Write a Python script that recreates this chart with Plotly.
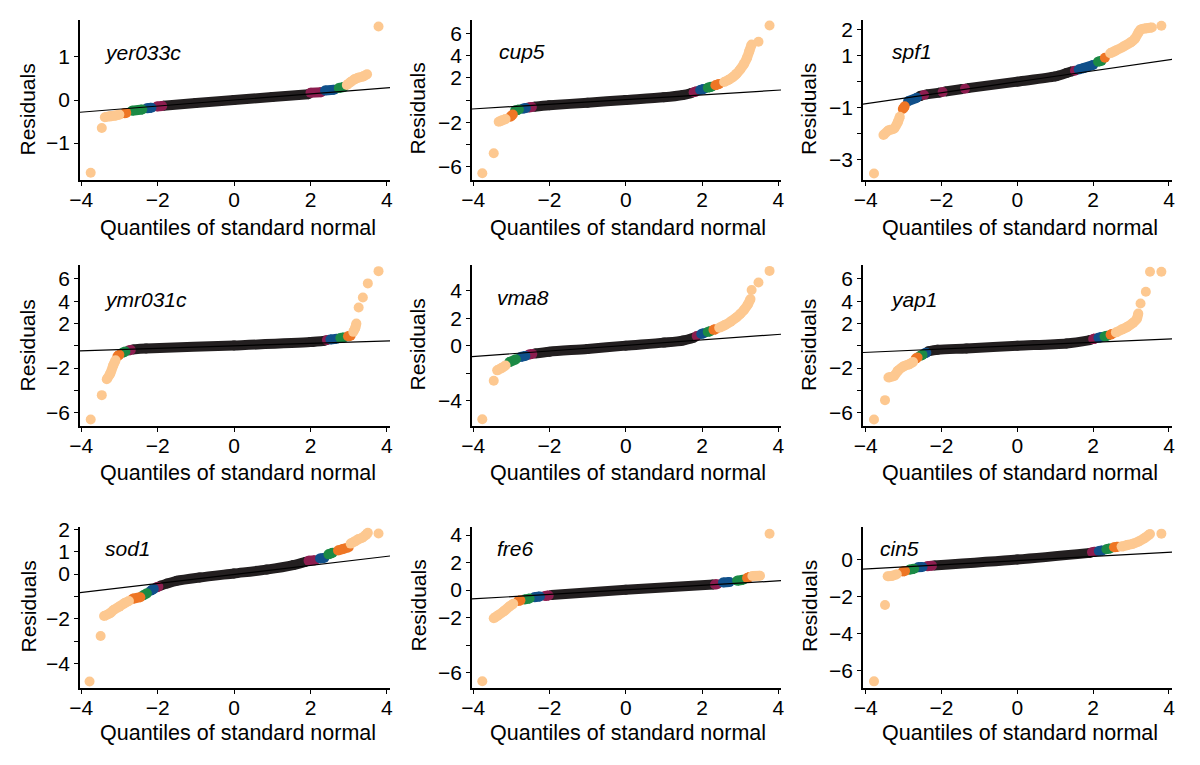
import plotly.graph_objects as go

# ---------------- data ----------------
genes = ["yer033c", "cup5", "spf1", "ymr031c", "vma8", "yap1", "sod1", "fre6", "cin5"]

# points: (theoretical quantile, residual, group)
# group: k=bulk, m=maroon, b=blue, g=green, o=orange, P=peach run, p=peach single
yer033c_pts = [(-3.75, -1.69, "p"), (-3.46, -0.65, "p"),
               (-3.38, -0.40, "P"), (-3.25, -0.38, "P"), (-3.10, -0.36, "P"), (-3.00, -0.34, "P"),
               (-2.87, -0.31, "o"), (-2.82, -0.30, "o"),
               (-2.67, -0.25, "g"), (-2.40, -0.22, "g"),
               (-2.28, -0.19, "b"), (-2.16, -0.18, "b"),
               (-2.02, -0.15, "m"), (-1.88, -0.14, "m"),
               (-1.85, -0.135, "k"), (-1.00, -0.07, "k"), (0.00, 0.00, "k"), (1.00, 0.07, "k"), (1.95, 0.135, "k"),
               (2.00, 0.17, "m"), (2.28, 0.18, "m"),
               (2.38, 0.22, "b"), (2.62, 0.24, "b"),
               (2.74, 0.28, "g"), (2.87, 0.30, "g"),
               (2.95, 0.35, "P"), (3.05, 0.42, "P"), (3.15, 0.48, "P"), (3.25, 0.52, "P"), (3.38, 0.55, "P"), (3.48, 0.60, "P"),
               (3.78, 1.71, "p")]

cup5_pts = [(-3.76, -6.60, "p"), (-3.46, -4.80, "p"),
            (-3.33, -1.95, "P"), (-3.25, -1.85, "P"), (-3.15, -1.72, "P"),
            (-3.02, -1.50, "o"), (-2.96, -1.30, "o"),
            (-2.90, -0.95, "g"), (-2.80, -0.86, "g"),
            (-2.70, -0.78, "b"), (-2.62, -0.73, "b"),
            (-2.55, -0.68, "m"), (-2.46, -0.64, "m"),
            (-2.40, -0.60, "k"), (-2.00, -0.48, "k"), (-1.00, -0.24, "k"), (0.00, 0.00, "k"),
            (1.00, 0.24, "k"), (1.50, 0.45, "k"), (1.72, 0.62, "k"),
            (1.78, 0.70, "m"), (1.86, 0.78, "m"),
            (1.95, 0.90, "b"), (2.05, 1.00, "b"),
            (2.15, 1.10, "g"), (2.25, 1.20, "g"),
            (2.35, 1.32, "o"), (2.45, 1.45, "o"),
            (2.58, 1.62, "P"), (2.70, 1.82, "P"), (2.80, 2.05, "P"), (2.90, 2.35, "P"), (3.00, 2.75, "P"),
            (3.10, 3.25, "P"), (3.18, 3.80, "P"), (3.24, 4.40, "P"), (3.30, 5.00, "P"),
            (3.48, 5.25, "p"), (3.77, 6.70, "p")]

spf1_pts = [(-3.78, -3.53, "p"),
            (-3.53, -2.05, "P"), (-3.40, -1.88, "P"), (-3.25, -1.80, "P"), (-3.15, -1.55, "P"), (-3.10, -1.35, "P"),
            (-3.02, -1.05, "o"), (-2.97, -0.95, "o"),
            (-2.88, -0.75, "b"), (-2.65, -0.62, "b"),
            (-2.58, -0.56, "k"), (-2.52, -0.53, "k"),
            (-2.46, -0.51, "m"),
            (-2.40, -0.49, "k"), (-2.04, -0.42, "k"),
            (-1.97, -0.40, "m"),
            (-1.90, -0.38, "k"), (-1.45, -0.28, "k"),
            (-1.38, -0.27, "m"),
            (-1.31, -0.25, "k"), (0.00, 0.00, "k"), (1.00, 0.20, "k"), (1.30, 0.33, "k"), (1.45, 0.40, "k"),
            (1.52, 0.42, "m"),
            (1.62, 0.47, "b"), (1.75, 0.52, "b"), (2.00, 0.64, "b"),
            (2.13, 0.77, "g"), (2.22, 0.80, "g"),
            (2.31, 0.92, "o"),
            (2.45, 1.09, "P"), (2.60, 1.20, "P"), (2.80, 1.35, "P"), (3.00, 1.52, "P"), (3.10, 1.65, "P"),
            (3.20, 1.90, "P"), (3.25, 2.00, "P"), (3.40, 2.05, "P"), (3.55, 2.08, "P"),
            (3.80, 2.15, "p")]

ymr031c_pts = [(-3.75, -6.62, "p"), (-3.46, -4.43, "p"),
               (-3.33, -3.00, "P"), (-3.24, -2.50, "P"), (-3.16, -1.75, "P"), (-3.10, -1.30, "P"),
               (-3.05, -0.95, "o"), (-3.00, -0.80, "o"),
               (-2.92, -0.62, "g"), (-2.84, -0.52, "g"),
               (-2.76, -0.43, "m"), (-2.70, -0.38, "m"),
               (-2.65, -0.33, "k"), (-2.30, -0.25, "k"), (0.00, 0.03, "k"), (2.00, 0.33, "k"), (2.38, 0.45, "k"),
               (2.43, 0.51, "m"),
               (2.52, 0.57, "b"), (2.68, 0.62, "b"),
               (2.78, 0.70, "g"), (2.88, 0.75, "g"),
               (2.98, 0.85, "o"), (3.05, 0.90, "o"),
               (3.12, 1.25, "P"), (3.17, 1.60, "P"), (3.20, 2.00, "P"),
               (3.26, 3.44, "p"), (3.37, 4.34, "p"), (3.50, 5.60, "p"), (3.78, 6.70, "p")]

vma8_pts = [(-3.76, -5.36, "p"), (-3.46, -2.55, "p"),
            (-3.37, -1.80, "P"), (-3.25, -1.62, "P"), (-3.15, -1.45, "P"),
            (-3.05, -1.20, "g"), (-2.88, -1.00, "g"),
            (-2.75, -0.82, "b"), (-2.63, -0.75, "b"),
            (-2.55, -0.66, "m"), (-2.45, -0.60, "m"),
            (-2.38, -0.57, "k"), (-2.00, -0.44, "k"), (-1.00, -0.24, "k"), (0.00, 0.00, "k"),
            (1.00, 0.22, "k"), (1.50, 0.37, "k"), (1.80, 0.60, "k"),
            (1.86, 0.70, "m"),
            (1.98, 0.85, "b"), (2.05, 0.90, "b"),
            (2.15, 1.00, "g"), (2.22, 1.05, "g"),
            (2.30, 1.15, "o"), (2.36, 1.20, "o"),
            (2.45, 1.30, "P"), (2.60, 1.50, "P"), (2.75, 1.75, "P"), (2.90, 2.05, "P"), (3.00, 2.30, "P"),
            (3.10, 2.60, "P"), (3.20, 3.00, "P"), (3.27, 3.40, "P"),
            (3.30, 4.05, "p"), (3.48, 4.60, "p"), (3.77, 5.44, "p")]

yap1_pts = [(-3.78, -6.62, "p"), (-3.49, -4.88, "p"),
            (-3.40, -2.85, "P"), (-3.25, -2.70, "P"), (-3.15, -2.25, "P"), (-3.00, -1.85, "P"),
            (-2.85, -1.65, "P"), (-2.75, -1.45, "P"),
            (-2.68, -1.15, "o"), (-2.63, -1.05, "o"),
            (-2.56, -0.90, "g"), (-2.50, -0.82, "g"),
            (-2.45, -0.70, "b"), (-2.40, -0.62, "b"),
            (-2.35, -0.50, "k"), (-2.10, -0.36, "k"), (-1.34, -0.24, "k"), (0.00, 0.00, "k"),
            (1.30, 0.21, "k"), (1.92, 0.51, "k"),
            (2.00, 0.60, "m"), (2.06, 0.66, "m"),
            (2.14, 0.72, "b"), (2.22, 0.78, "b"),
            (2.30, 0.84, "g"), (2.38, 0.90, "g"),
            (2.46, 1.00, "o"), (2.50, 1.06, "o"),
            (2.60, 1.20, "P"), (2.75, 1.45, "P"), (2.90, 1.70, "P"), (3.05, 2.05, "P"), (3.15, 2.40, "P"), (3.19, 2.90, "P"),
            (3.25, 3.80, "p"), (3.39, 4.85, "p"), (3.50, 6.65, "p"), (3.80, 6.65, "p")]

sod1_pts = [(-3.78, -4.79, "p"), (-3.49, -2.76, "p"),
            (-3.40, -1.87, "P"), (-3.25, -1.75, "P"), (-3.15, -1.60, "P"), (-3.00, -1.45, "P"),
            (-2.85, -1.28, "P"), (-2.75, -1.20, "P"),
            (-2.65, -1.10, "o"), (-2.45, -1.03, "o"),
            (-2.38, -0.95, "g"), (-2.28, -0.86, "g"),
            (-2.18, -0.74, "b"), (-2.10, -0.66, "b"),
            (-2.04, -0.60, "m"), (-1.98, -0.56, "m"),
            (-1.93, -0.52, "k"), (-1.75, -0.42, "k"), (-1.50, -0.30, "k"), (-0.90, -0.15, "k"),
            (0.00, 0.03, "k"), (0.85, 0.20, "k"), (1.55, 0.40, "k"), (1.88, 0.55, "k"),
            (1.95, 0.60, "m"), (2.12, 0.62, "m"),
            (2.25, 0.70, "b"), (2.36, 0.72, "b"),
            (2.47, 0.88, "g"), (2.58, 0.95, "g"),
            (2.72, 1.05, "o"), (2.85, 1.12, "o"), (3.00, 1.20, "o"),
            (3.05, 1.36, "P"), (3.15, 1.45, "P"), (3.25, 1.55, "P"), (3.35, 1.62, "P"), (3.45, 1.75, "P"), (3.50, 1.84, "P"),
            (3.78, 1.81, "p")]

fre6_pts = [(-3.76, -6.64, "p"),
            (-3.46, -2.05, "P"), (-3.35, -1.85, "P"), (-3.20, -1.55, "P"), (-3.05, -1.20, "P"), (-2.95, -1.00, "P"),
            (-2.82, -0.80, "o"), (-2.76, -0.75, "o"),
            (-2.65, -0.68, "g"), (-2.52, -0.62, "g"),
            (-2.40, -0.52, "b"), (-2.25, -0.47, "b"),
            (-2.12, -0.43, "m"), (-2.02, -0.40, "m"),
            (-1.95, -0.36, "k"), (0.00, 0.03, "k"), (2.30, 0.41, "k"),
            (2.34, 0.41, "m"), (2.40, 0.43, "m"),
            (2.55, 0.55, "b"), (2.72, 0.58, "b"),
            (2.92, 0.68, "g"), (3.08, 0.75, "g"),
            (3.18, 0.88, "o"), (3.25, 0.95, "o"),
            (3.32, 1.02, "P"), (3.52, 1.04, "P"),
            (3.77, 4.10, "p")]

cin5_pts = [(-3.78, -6.59, "p"), (-3.49, -2.46, "p"),
            (-3.42, -0.90, "P"), (-3.30, -0.88, "P"), (-3.18, -0.80, "P"),
            (-3.02, -0.65, "o"), (-2.96, -0.62, "o"),
            (-2.85, -0.55, "g"), (-2.72, -0.50, "g"),
            (-2.62, -0.42, "b"), (-2.50, -0.40, "b"),
            (-2.38, -0.36, "m"), (-2.25, -0.33, "m"),
            (-2.20, -0.32, "k"), (0.00, 0.00, "k"), (1.92, 0.36, "k"),
            (1.97, 0.40, "m"), (2.05, 0.42, "m"),
            (2.15, 0.46, "b"), (2.25, 0.49, "b"),
            (2.35, 0.56, "g"), (2.45, 0.60, "g"),
            (2.55, 0.66, "o"), (2.65, 0.69, "o"),
            (2.75, 0.70, "P"), (2.90, 0.78, "P"), (3.05, 0.86, "P"), (3.20, 0.98, "P"), (3.35, 1.15, "P"), (3.50, 1.38, "P"),
            (3.80, 1.40, "p")]

# reference (fitted) line: residual at the two x ends
ref_x = [-4.1, 4.15]
yer033c_ref = [-0.290, 0.294]
cup5_ref = [-0.825, 0.917]
spf1_ref = [-0.868, 0.868]
ymr031c_ref = [-0.458, 0.457]
vma8_ref = [-0.814, 0.846]
yap1_ref = [-0.606, 0.636]
sod1_ref = [-0.838, 0.820]
fre6_ref = [-0.661, 0.693]
cin5_ref = [-0.525, 0.414]

# axis ticks
x_ticks = [-4, -2, 0, 2, 4]
x_ticktext = ["\u22124", "\u22122", "0", "2", "4"]
yer033c_yt = ([-1, 0, 1], ["\u22121", "0", "1"])
cup5_yt = ([-6, -4, -2, 0, 2, 4, 6], ["\u22126", "", "\u22122", "", "2", "4", "6"])
spf1_yt = ([-3, -2, -1, 0, 1, 2], ["\u22123", "", "\u22121", "", "1", "2"])
ymr031c_yt = ([-6, -4, -2, 0, 2, 4, 6], ["\u22126", "", "\u22122", "", "2", "4", "6"])
vma8_yt = ([-4, -2, 0, 2, 4], ["\u22124", "", "0", "2", "4"])
yap1_yt = ([-6, -4, -2, 0, 2, 4, 6], ["\u22126", "", "\u22122", "", "2", "4", "6"])
sod1_yt = ([-4, -3, -2, -1, 0, 1, 2], ["\u22124", "", "\u22122", "", "0", "1", "2"])
fre6_yt = ([-6, -4, -2, 0, 2, 4], ["\u22126", "", "\u22122", "0", "2", "4"])
cin5_yt = ([-6, -4, -2, 0], ["\u22126", "\u22124", "\u22122", "0"])

x_title = "Quantiles of standard normal"
y_title = "Residuals"

# ---------------- styling / layout ----------------
pts_all = [yer033c_pts, cup5_pts, spf1_pts, ymr031c_pts, vma8_pts, yap1_pts, sod1_pts, fre6_pts, cin5_pts]
refs_all = [yer033c_ref, cup5_ref, spf1_ref, ymr031c_ref, vma8_ref, yap1_ref, sod1_ref, fre6_ref, cin5_ref]
yts_all = [yer033c_yt, cup5_yt, spf1_yt, ymr031c_yt, vma8_yt, yap1_yt, sod1_yt, fre6_yt, cin5_yt]
y_ranges = [[-1.86, 1.86], [-7.2, 7.2], [-3.78, 2.37],
            [-7.2, 7.25], [-5.85, 5.87], [-7.2, 7.25],
            [-5.08, 2.1], [-7.13, 4.59], [-6.95, 1.76]]
x_ranges = [[-4.03, 4.08], [-4.03, 4.07], [-4.07, 4.08]]

W, H = 1200, 765
col_px = [(80, 390), (472, 781), (863, 1172)]
row_px = [(20, 180), (265, 426), (527, 688)]
label_px = [(102, 53), (497, 52), (890, 52), (102, 300), (495, 298), (888, 300),
            (103, 548), (495, 548), (878, 548)]
ytitle_cx = [27.5, 417.5, 809]
ytitle_cy = [109, 345, 606]
xtitle_cx = [237.5, 627.5, 1019.5]
xtitle_cy = [227.5, 473, 732.5]

colors = {"k": "#231f20", "m": "#8c1d4f", "b": "#10508a", "g": "#1b8a45",
          "o": "#ee7625", "P": "#fdc890", "p": "#fdc890"}
draw_order = ["k", "m", "b", "g", "o", "P", "p"]
FONT = "Liberation Sans, Arial, Helvetica, sans-serif"
DOT = 10

fig = go.Figure()
annotations = []
layout = dict(width=W, height=H, autosize=False,
              margin=dict(l=0, r=0, t=0, b=0, pad=0, autoexpand=False),
              paper_bgcolor="white", plot_bgcolor="white", showlegend=False,
              font=dict(family=FONT, size=21, color="black"))

for i, gene in enumerate(genes):
    r, c = divmod(i, 3)
    n = i + 1
    xa, ya = ("x" if n == 1 else f"x{n}"), ("y" if n == 1 else f"y{n}")
    pts = pts_all[i]
    for code in draw_order:
        xs, ys = [], []
        j = 0
        while j < len(pts):
            if pts[j][2] == code:
                k = j
                while k < len(pts) and pts[k][2] == code:
                    xs.append(pts[k][0]); ys.append(pts[k][1])
                    if code == "p":
                        xs.append(None); ys.append(None)
                    k += 1
                xs.append(None); ys.append(None)
                j = k
            else:
                j += 1
        if not xs:
            continue
        mode = "markers" if code == "p" else "lines+markers"
        shape = "spline" if code in ("k", "P") else "linear"
        fig.add_trace(go.Scatter(x=xs, y=ys, mode=mode, xaxis=xa, yaxis=ya,
                                 connectgaps=False, hoverinfo="skip",
                                 line=dict(color=colors[code], width=DOT, shape=shape, smoothing=0.8),
                                 marker=dict(color=colors[code], size=DOT, line=dict(width=0))))
    fig.add_trace(go.Scatter(x=ref_x, y=refs_all[i], mode="lines", xaxis=xa, yaxis=ya,
                             hoverinfo="skip", line=dict(color="black", width=1.2)))

    x0, x1 = col_px[c]
    y0, y1 = row_px[r]
    axis_common = dict(showline=True, linecolor="black", linewidth=1.5, ticks="outside",
                       ticklen=4, tickwidth=1.3, tickcolor="black", showgrid=False,
                       zeroline=False, tickfont=dict(family=FONT, size=21, color="black"),
                       fixedrange=True, automargin=False)
    layout["xaxis" if n == 1 else f"xaxis{n}"] = dict(
        domain=[x0 / W, x1 / W], range=x_ranges[c], anchor=ya, ticklabelstandoff=-4,
        tickmode="array", tickvals=x_ticks, ticktext=x_ticktext, **axis_common)
    tv, tt = yts_all[i]
    layout["yaxis" if n == 1 else f"yaxis{n}"] = dict(
        domain=[1 - y1 / H, 1 - y0 / H], range=y_ranges[i], anchor=xa,
        tickmode="array", tickvals=tv, ticktext=tt, **axis_common)

    lx, ly = label_px[i]
    annotations.append(dict(text=f"<i>{gene}</i>", x=lx / W, y=1 - ly / H, xref="paper", yref="paper",
                            xanchor="left", yanchor="middle", showarrow=False,
                            font=dict(family=FONT, size=21, color="black")))
    annotations.append(dict(text=y_title, x=ytitle_cx[c] / W, y=1 - ytitle_cy[r] / H,
                            xref="paper", yref="paper", textangle=-90,
                            xanchor="center", yanchor="middle", showarrow=False,
                            font=dict(family=FONT, size=21, color="black")))
    annotations.append(dict(text=x_title, x=xtitle_cx[c] / W, y=1 - xtitle_cy[r] / H,
                            xref="paper", yref="paper",
                            xanchor="center", yanchor="middle", showarrow=False,
                            font=dict(family=FONT, size=21.5, color="black")))

layout["annotations"] = annotations
fig.update_layout(**layout)
fig.write_html("out.html", config={"displayModeBar": False},
               post_script="document.body.style.margin='0';")
